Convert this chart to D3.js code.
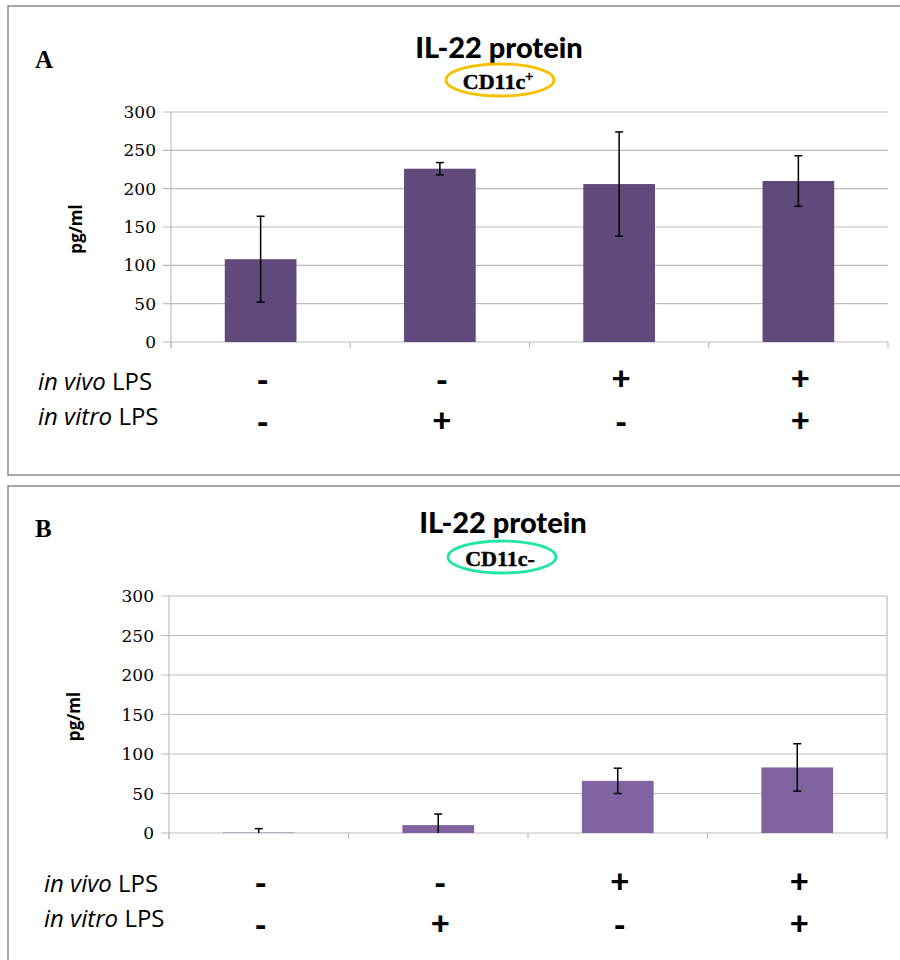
<!DOCTYPE html>
<html>
<head>
<meta charset="utf-8">
<script src="https://cdn.jsdelivr.net/npm/d3@7"></script>
<style>
  body { margin: 0; background: #fff; }
  svg { display: block; }
</style>
</head>
<body>
<script>
// groups along the x axis
const groups = ['g1', 'g2', 'g3', 'g4']
const inVivo = ['-', '-', '+', '+']
const inVitro = ['-', '+', '-', '+']
const yTicks = [0, 50, 100, 150, 200, 250, 300]

// IL-22 pg/ml, mean and error
const posMean = [108, 226, 206, 210]
const posErr = [56, 8, 68, 33]
const negMean = [0.5, 10, 66, 83]
const negErr = [5, 14, 16, 30]

const svg = d3.select('body').append('svg')
  .attr('width', 900)
  .attr('height', 960)

const grid = '#bcbcbc'

function drawPanel(opt) {
  let g = svg.append('g')

  // frame
  g.append('rect')
    .attr('x', 8).attr('y', opt.top)
    .attr('width', 910).attr('height', opt.frameH)
    .attr('fill', 'none')
    .attr('stroke', '#8a8a8a')
    .attr('stroke-width', 1.5)

  g.append('text')
    .attr('x', 35).attr('y', opt.letterY)
    .attr('font-family', 'Liberation Serif')
    .attr('font-weight', 'bold')
    .attr('font-size', 25)
    .text(opt.letter)

  // title + ellipse
  g.append('text')
    .attr('x', opt.titleX).attr('y', opt.titleY)
    .attr('text-anchor', 'middle')
    .attr('font-family', 'Lato')
    .attr('font-weight', 900)
    .attr('font-size', 29)
    .text('IL-22 protein')

  g.append('ellipse')
    .attr('cx', opt.ellX).attr('cy', opt.ellY)
    .attr('rx', 54).attr('ry', 16)
    .attr('fill', 'none')
    .attr('stroke', opt.ellColor)
    .attr('stroke-width', 2.8)

  let lab = g.append('text')
    .attr('x', opt.ellX - 2).attr('y', opt.ellY + 9)
    .attr('text-anchor', 'middle')
    .attr('font-family', 'Liberation Serif')
    .attr('font-weight', 'bold')
    .attr('font-size', 22)
    .attr('stroke', '#000')
    .attr('stroke-width', 0.5)
  lab.append('tspan').text('CD11c')
  if (opt.sup) {
    lab.append('tspan').attr('font-size', 14).attr('dy', -8).text('+')
  } else {
    lab.append('tspan').text('-')
  }

  let x = d3.scaleBand()
    .domain(groups)
    .range([opt.x0, opt.x1])
    .paddingInner(0.6)
    .paddingOuter(0.3)

  let y = d3.scaleLinear()
    .domain([0, 300])
    .range([opt.y0, opt.y300])

  // gridlines with left ticks
  g.selectAll('.grid')
    .data(yTicks)
    .join('line')
    .attr('x1', opt.x0 - 8).attr('x2', opt.x1)
    .attr('y1', d => y(d)).attr('y2', d => y(d))
    .attr('stroke', grid)
    .attr('stroke-width', 1.2)

  g.selectAll('.ylab')
    .data(yTicks)
    .join('text')
    .attr('x', opt.x0 - 15)
    .attr('y', d => y(d) + 6)
    .attr('text-anchor', 'end')
    .attr('font-family', 'DejaVu Serif')
    .attr('font-size', 17)
    .text(d => d)

  // y axis line
  g.append('line')
    .attr('x1', opt.x0).attr('x2', opt.x0)
    .attr('y1', y(300)).attr('y2', y(0) + 6)
    .attr('stroke', grid).attr('stroke-width', 1.2)

  if (opt.rightLine) {
    g.append('line')
      .attr('x1', opt.x1).attr('x2', opt.x1)
      .attr('y1', y(300)).attr('y2', y(0))
      .attr('stroke', grid).attr('stroke-width', 1.2)
  }

  // x ticks at group boundaries
  let step = x.step()
  g.selectAll('.xtick')
    .data(d3.range(groups.length + 1))
    .join('line')
    .attr('x1', i => opt.x0 + i * step).attr('x2', i => opt.x0 + i * step)
    .attr('y1', y(0)).attr('y2', y(0) + 6)
    .attr('stroke', grid).attr('stroke-width', 1.2)

  g.append('text')
    .attr('transform', `translate(${opt.unitX},${(y(0) + y(300)) / 2 + 2}) rotate(-90)`)
    .attr('text-anchor', 'middle')
    .attr('font-family', 'Open Sans')
    .attr('font-weight', 'bold')
    .attr('font-size', 17)
    .text('pg/ml')

  let rows = groups.map((d, i) => ({ key: d, mean: opt.mean[i], err: opt.err[i] }))

  g.selectAll('.bar')
    .data(rows)
    .join('rect')
    .attr('x', d => x(d.key))
    .attr('width', x.bandwidth())
    .attr('y', d => y(d.mean))
    .attr('height', d => y(0) - y(d.mean))
    .attr('fill', opt.barColor)

  let cap = 4
  rows.forEach(d => {
    let cx = x(d.key) + x.bandwidth() / 2
    let lo = Math.max(0, d.mean - d.err)
    let hi = d.mean + d.err
    g.append('line')
      .attr('x1', cx).attr('x2', cx)
      .attr('y1', y(hi)).attr('y2', y(lo))
      .attr('stroke', '#000').attr('stroke-width', 1.5)
    g.append('line')
      .attr('x1', cx - cap).attr('x2', cx + cap)
      .attr('y1', y(hi)).attr('y2', y(hi))
      .attr('stroke', '#000').attr('stroke-width', 1.5)
    if (d.mean - d.err > 0) {
      g.append('line')
        .attr('x1', cx - cap).attr('x2', cx + cap)
        .attr('y1', y(lo)).attr('y2', y(lo))
        .attr('stroke', '#000').attr('stroke-width', 1.5)
    }
  })

  // condition rows
  let rowDefs = [
    { italic: 'in vivo', signs: inVivo, yy: opt.row1, sy: opt.sign1 },
    { italic: 'in vitro', signs: inVitro, yy: opt.row2, sy: opt.sign2 }
  ]
  rowDefs.forEach(r => {
    let t = g.append('text')
      .attr('x', opt.rowX).attr('y', r.yy)
      .attr('font-family', 'Open Sans')
      .attr('font-size', 24)
    t.append('tspan').attr('font-style', 'italic').text(r.italic)
    t.append('tspan').text(' LPS')

    g.selectAll(null)
      .data(r.signs)
      .join('text')
      .attr('x', (d, i) => x(groups[i]) + x.bandwidth() / 2 + 2)
      .attr('y', d => r.sy + (d === '+' ? -1 : 1))
      .attr('text-anchor', 'middle')
      .attr('font-family', 'Lato')
      .attr('font-weight', 900)
      .attr('font-size', 33)
      .text(d => d)
  })
}

drawPanel({
  top: 6, frameH: 469, letter: 'A', letterY: 68,
  titleX: 499, titleY: 58, ellX: 500, ellY: 80, ellColor: '#f5c000', sup: true,
  x0: 171, x1: 888, y0: 342, y300: 112, unitX: 82,
  rightLine: false, barColor: '#604a7b',
  mean: posMean, err: posErr,
  rowX: 38, row1: 390, row2: 425, sign1: 391, sign2: 433
})

drawPanel({
  top: 486, frameH: 500, letter: 'B', letterY: 537,
  titleX: 503, titleY: 533, ellX: 502, ellY: 557, ellColor: '#22e6a6', sup: false,
  x0: 169, x1: 887, y0: 833, y300: 596, unitX: 80,
  rightLine: true, barColor: '#8064a2',
  mean: negMean, err: negErr,
  rowX: 44, row1: 892, row2: 927, sign1: 894, sign2: 936
})
</script>
</body>
</html>
